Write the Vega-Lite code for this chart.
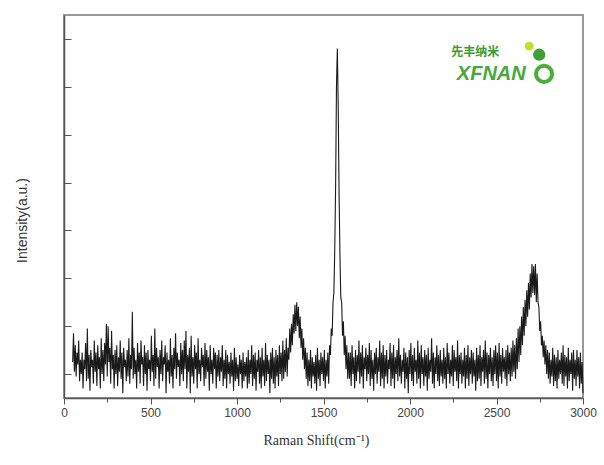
{
"$schema": "https://vega.github.io/schema/vega-lite/v6.json",
"width": 519, "height": 383,
"autosize": "none",
"padding": {"left": 64, "top": 15, "right": 21, "bottom": 67},
"background": "white",
"config": {"view": {"stroke": "#9a9a9a", "strokeWidth": 2}, "font": "Liberation Sans"},
"datasets": {
"spectrum": [
{"x":50,"y":1.25},{"x":55,"y":1.85},{"x":60,"y":1.05},{"x":65,"y":1.6},{"x":70,"y":0.95},{"x":75,"y":1.45},{"x":80,"y":1.2},{"x":85,"y":1.7},{"x":90,"y":0.85},{"x":95,"y":1.3},
{"x":100,"y":1.0},{"x":105,"y":1.45},{"x":110,"y":0.7},{"x":115,"y":1.3},{"x":120,"y":1.1},{"x":125,"y":1.65},{"x":130,"y":0.85},{"x":135,"y":1.95},{"x":140,"y":0.9},{"x":145,"y":1.4},
{"x":150,"y":0.65},{"x":155,"y":1.5},{"x":160,"y":1.15},{"x":165,"y":1.3},{"x":170,"y":0.8},{"x":175,"y":1.7},{"x":180,"y":1.05},{"x":185,"y":1.45},{"x":190,"y":0.75},{"x":195,"y":1.6},
{"x":200,"y":1.1},{"x":205,"y":1.35},{"x":210,"y":0.7},{"x":215,"y":1.75},{"x":220,"y":1.0},{"x":225,"y":1.5},{"x":230,"y":0.85},{"x":235,"y":1.65},{"x":240,"y":1.2},{"x":245,"y":2.05},
{"x":250,"y":0.95},{"x":255,"y":2.0},{"x":260,"y":1.25},{"x":265,"y":1.55},{"x":270,"y":0.8},{"x":275,"y":1.9},{"x":280,"y":1.1},{"x":285,"y":1.4},{"x":290,"y":0.7},{"x":295,"y":1.5},
{"x":300,"y":1.0},{"x":305,"y":1.6},{"x":310,"y":0.75},{"x":315,"y":1.35},{"x":320,"y":1.05},{"x":325,"y":1.7},{"x":330,"y":0.9},{"x":335,"y":1.45},{"x":340,"y":0.6},{"x":345,"y":1.55},
{"x":350,"y":1.15},{"x":355,"y":1.3},{"x":360,"y":0.85},{"x":365,"y":1.5},{"x":370,"y":0.95},{"x":375,"y":1.75},{"x":380,"y":0.8},{"x":385,"y":1.4},{"x":390,"y":1.1},{"x":395,"y":2.3},
{"x":400,"y":0.9},{"x":405,"y":1.55},{"x":410,"y":1.0},{"x":415,"y":1.3},{"x":420,"y":0.7},{"x":425,"y":1.65},{"x":430,"y":1.05},{"x":435,"y":1.45},{"x":440,"y":0.8},{"x":445,"y":1.7},
{"x":450,"y":1.2},{"x":455,"y":1.35},{"x":460,"y":0.75},{"x":465,"y":1.6},{"x":470,"y":1.0},{"x":475,"y":1.45},{"x":480,"y":0.65},{"x":485,"y":1.5},{"x":490,"y":1.1},{"x":495,"y":1.3},
{"x":500,"y":0.85},{"x":505,"y":1.8},{"x":510,"y":1.05},{"x":515,"y":1.4},{"x":520,"y":0.75},{"x":525,"y":1.95},{"x":530,"y":0.9},{"x":535,"y":1.55},{"x":540,"y":1.15},{"x":545,"y":1.35},
{"x":550,"y":0.7},{"x":555,"y":1.5},{"x":560,"y":1.0},{"x":565,"y":1.7},{"x":570,"y":0.85},{"x":575,"y":1.35},{"x":580,"y":1.2},{"x":585,"y":1.6},{"x":590,"y":0.6},{"x":595,"y":1.45},
{"x":600,"y":1.05},{"x":605,"y":1.3},{"x":610,"y":0.8},{"x":615,"y":1.75},{"x":620,"y":0.95},{"x":625,"y":1.4},{"x":630,"y":0.7},{"x":635,"y":1.55},{"x":640,"y":1.1},{"x":645,"y":1.85},
{"x":650,"y":0.9},{"x":655,"y":1.45},{"x":660,"y":1.15},{"x":665,"y":1.3},{"x":670,"y":0.75},{"x":675,"y":1.65},{"x":680,"y":1.0},{"x":685,"y":1.5},{"x":690,"y":0.85},{"x":695,"y":1.7},
{"x":700,"y":1.1},{"x":705,"y":1.9},{"x":710,"y":0.7},{"x":715,"y":1.4},{"x":720,"y":1.05},{"x":725,"y":1.55},{"x":730,"y":0.6},{"x":735,"y":1.8},{"x":740,"y":0.95},{"x":745,"y":1.35},
{"x":750,"y":0.8},{"x":755,"y":1.6},{"x":760,"y":1.1},{"x":765,"y":1.45},{"x":770,"y":0.7},{"x":775,"y":1.75},{"x":780,"y":1.0},{"x":785,"y":1.3},{"x":790,"y":0.85},{"x":795,"y":1.55},
{"x":800,"y":1.15},{"x":805,"y":1.4},{"x":810,"y":0.75},{"x":815,"y":1.65},{"x":820,"y":0.9},{"x":825,"y":1.5},{"x":830,"y":1.05},{"x":835,"y":1.35},{"x":840,"y":0.65},{"x":845,"y":1.6},
{"x":850,"y":1.0},{"x":855,"y":1.3},{"x":860,"y":0.8},{"x":865,"y":1.55},{"x":870,"y":1.1},{"x":875,"y":1.45},{"x":880,"y":0.7},{"x":885,"y":1.4},{"x":890,"y":0.95},{"x":895,"y":1.5},
{"x":900,"y":0.85},{"x":905,"y":1.35},{"x":910,"y":1.05},{"x":915,"y":1.6},{"x":920,"y":0.75},{"x":925,"y":1.3},{"x":930,"y":0.9},{"x":935,"y":1.5},{"x":940,"y":0.7},{"x":945,"y":1.4},
{"x":950,"y":1.0},{"x":955,"y":1.25},{"x":960,"y":0.8},{"x":965,"y":1.45},{"x":970,"y":0.95},{"x":975,"y":1.3},{"x":980,"y":0.65},{"x":985,"y":1.55},{"x":990,"y":0.85},{"x":995,"y":1.35},
{"x":1000,"y":0.9},{"x":1005,"y":1.2},{"x":1010,"y":0.75},{"x":1015,"y":1.4},{"x":1020,"y":1.0},{"x":1025,"y":1.3},{"x":1030,"y":0.7},{"x":1035,"y":1.45},{"x":1040,"y":0.85},{"x":1045,"y":1.25},
{"x":1050,"y":0.95},{"x":1055,"y":1.35},{"x":1060,"y":0.7},{"x":1065,"y":1.5},{"x":1070,"y":0.8},{"x":1075,"y":1.3},{"x":1080,"y":1.0},{"x":1085,"y":1.6},{"x":1090,"y":0.75},{"x":1095,"y":1.4},
{"x":1100,"y":0.9},{"x":1105,"y":1.45},{"x":1110,"y":0.65},{"x":1115,"y":1.3},{"x":1120,"y":1.05},{"x":1125,"y":1.5},{"x":1130,"y":0.8},{"x":1135,"y":1.35},{"x":1140,"y":0.7},{"x":1145,"y":1.55},
{"x":1150,"y":0.95},{"x":1155,"y":1.3},{"x":1160,"y":0.75},{"x":1165,"y":1.65},{"x":1170,"y":0.85},{"x":1175,"y":1.4},{"x":1180,"y":1.0},{"x":1185,"y":1.3},{"x":1190,"y":0.6},{"x":1195,"y":1.45},
{"x":1200,"y":0.9},{"x":1205,"y":1.55},{"x":1210,"y":0.8},{"x":1215,"y":1.35},{"x":1220,"y":0.7},{"x":1225,"y":1.5},{"x":1230,"y":0.95},{"x":1235,"y":1.4},{"x":1240,"y":0.75},{"x":1245,"y":1.6},
{"x":1250,"y":1.0},{"x":1255,"y":1.45},{"x":1260,"y":0.85},{"x":1265,"y":1.7},{"x":1270,"y":0.9},{"x":1275,"y":1.5},{"x":1280,"y":1.05},{"x":1285,"y":1.75},{"x":1290,"y":0.95},{"x":1295,"y":1.55},
{"x":1300,"y":1.3},{"x":1305,"y":1.95},{"x":1310,"y":1.45},{"x":1315,"y":2.05},{"x":1320,"y":1.6},{"x":1325,"y":2.25},{"x":1330,"y":1.85},{"x":1335,"y":2.45},{"x":1340,"y":1.9},{"x":1345,"y":2.5},
{"x":1350,"y":2.0},{"x":1355,"y":2.4},{"x":1360,"y":1.75},{"x":1365,"y":2.2},{"x":1370,"y":1.55},{"x":1375,"y":1.95},{"x":1380,"y":1.3},{"x":1385,"y":1.75},{"x":1390,"y":1.1},{"x":1395,"y":1.55},
{"x":1400,"y":0.9},{"x":1405,"y":1.45},{"x":1410,"y":0.75},{"x":1415,"y":1.3},{"x":1420,"y":0.85},{"x":1425,"y":1.5},{"x":1430,"y":0.7},{"x":1435,"y":1.35},{"x":1440,"y":0.95},{"x":1445,"y":1.25},
{"x":1450,"y":0.8},{"x":1455,"y":1.4},{"x":1460,"y":0.65},{"x":1465,"y":1.55},{"x":1470,"y":0.9},{"x":1475,"y":1.3},{"x":1480,"y":0.75},{"x":1485,"y":1.45},{"x":1490,"y":1.0},{"x":1495,"y":1.35},
{"x":1500,"y":0.85},{"x":1505,"y":1.5},{"x":1510,"y":0.7},{"x":1515,"y":1.3},{"x":1520,"y":0.95},{"x":1525,"y":1.45},{"x":1530,"y":0.8},{"x":1535,"y":1.6},{"x":1540,"y":1.4},{"x":1545,"y":1.95},
{"x":1550,"y":1.8},{"x":1555,"y":2.5},{"x":1560,"y":2.7},{"x":1565,"y":3.6},{"x":1570,"y":4.9},{"x":1575,"y":7.0},{"x":1580,"y":7.8},{"x":1585,"y":6.6},{"x":1590,"y":4.8},{"x":1595,"y":3.5},
{"x":1600,"y":2.6},{"x":1605,"y":2.5},{"x":1610,"y":1.8},{"x":1615,"y":2.1},{"x":1620,"y":1.4},{"x":1625,"y":1.8},{"x":1630,"y":1.1},{"x":1635,"y":1.6},{"x":1640,"y":0.9},{"x":1645,"y":1.45},
{"x":1650,"y":0.9},{"x":1655,"y":1.45},{"x":1660,"y":0.75},{"x":1665,"y":1.6},{"x":1670,"y":1.0},{"x":1675,"y":1.35},{"x":1680,"y":0.7},{"x":1685,"y":1.5},{"x":1690,"y":0.85},{"x":1695,"y":1.4},
{"x":1700,"y":1.05},{"x":1705,"y":1.7},{"x":1710,"y":0.8},{"x":1715,"y":1.45},{"x":1720,"y":0.95},{"x":1725,"y":1.6},{"x":1730,"y":0.7},{"x":1735,"y":1.35},{"x":1740,"y":1.1},{"x":1745,"y":1.55},
{"x":1750,"y":0.85},{"x":1755,"y":1.4},{"x":1760,"y":1.0},{"x":1765,"y":1.65},{"x":1770,"y":0.75},{"x":1775,"y":1.5},{"x":1780,"y":0.9},{"x":1785,"y":1.3},{"x":1790,"y":0.65},{"x":1795,"y":1.45},
{"x":1800,"y":1.0},{"x":1805,"y":1.55},{"x":1810,"y":0.8},{"x":1815,"y":1.35},{"x":1820,"y":1.05},{"x":1825,"y":1.7},{"x":1830,"y":0.75},{"x":1835,"y":1.45},{"x":1840,"y":0.9},{"x":1845,"y":1.6},
{"x":1850,"y":0.7},{"x":1855,"y":1.4},{"x":1860,"y":0.95},{"x":1865,"y":1.5},{"x":1870,"y":0.8},{"x":1875,"y":1.3},{"x":1880,"y":1.1},{"x":1885,"y":1.65},{"x":1890,"y":0.75},{"x":1895,"y":1.45},
{"x":1900,"y":0.9},{"x":1905,"y":1.6},{"x":1910,"y":0.7},{"x":1915,"y":1.35},{"x":1920,"y":1.0},{"x":1925,"y":1.5},{"x":1930,"y":0.85},{"x":1935,"y":1.75},{"x":1940,"y":0.95},{"x":1945,"y":1.4},
{"x":1950,"y":0.8},{"x":1955,"y":1.3},{"x":1960,"y":1.05},{"x":1965,"y":1.55},{"x":1970,"y":0.7},{"x":1975,"y":1.45},{"x":1980,"y":0.9},{"x":1985,"y":1.35},{"x":1990,"y":0.6},{"x":1995,"y":1.5},
{"x":2000,"y":1.0},{"x":2005,"y":1.65},{"x":2010,"y":0.85},{"x":2015,"y":1.4},{"x":2020,"y":0.75},{"x":2025,"y":1.55},{"x":2030,"y":1.05},{"x":2035,"y":1.3},{"x":2040,"y":0.8},{"x":2045,"y":1.7},
{"x":2050,"y":0.9},{"x":2055,"y":1.45},{"x":2060,"y":0.7},{"x":2065,"y":1.6},{"x":2070,"y":1.0},{"x":2075,"y":1.35},{"x":2080,"y":0.75},{"x":2085,"y":1.5},{"x":2090,"y":0.95},{"x":2095,"y":1.4},
{"x":2100,"y":0.65},{"x":2105,"y":1.55},{"x":2110,"y":0.9},{"x":2115,"y":1.3},{"x":2120,"y":1.05},{"x":2125,"y":1.75},{"x":2130,"y":0.8},{"x":2135,"y":1.45},{"x":2140,"y":0.7},{"x":2145,"y":1.35},
{"x":2150,"y":1.0},{"x":2155,"y":1.6},{"x":2160,"y":0.85},{"x":2165,"y":1.4},{"x":2170,"y":0.75},{"x":2175,"y":1.5},{"x":2180,"y":0.95},{"x":2185,"y":1.3},{"x":2190,"y":0.8},{"x":2195,"y":1.55},
{"x":2200,"y":0.9},{"x":2205,"y":1.35},{"x":2210,"y":0.7},{"x":2215,"y":1.65},{"x":2220,"y":1.0},{"x":2225,"y":1.45},{"x":2230,"y":0.8},{"x":2235,"y":1.3},{"x":2240,"y":0.95},{"x":2245,"y":1.6},
{"x":2250,"y":0.75},{"x":2255,"y":1.5},{"x":2260,"y":1.05},{"x":2265,"y":1.35},{"x":2270,"y":0.85},{"x":2275,"y":1.7},{"x":2280,"y":0.7},{"x":2285,"y":1.4},{"x":2290,"y":1.0},{"x":2295,"y":1.45},
{"x":2300,"y":0.8},{"x":2305,"y":1.3},{"x":2310,"y":0.95},{"x":2315,"y":1.55},{"x":2320,"y":0.7},{"x":2325,"y":1.4},{"x":2330,"y":0.9},{"x":2335,"y":1.6},{"x":2340,"y":0.75},{"x":2345,"y":1.35},
{"x":2350,"y":1.0},{"x":2355,"y":1.5},{"x":2360,"y":0.8},{"x":2365,"y":1.45},{"x":2370,"y":0.95},{"x":2375,"y":1.3},{"x":2380,"y":0.65},{"x":2385,"y":1.55},{"x":2390,"y":0.85},{"x":2395,"y":1.4},
{"x":2400,"y":0.9},{"x":2405,"y":1.6},{"x":2410,"y":0.75},{"x":2415,"y":1.35},{"x":2420,"y":1.05},{"x":2425,"y":1.5},{"x":2430,"y":0.8},{"x":2435,"y":1.7},{"x":2440,"y":0.9},{"x":2445,"y":1.45},
{"x":2450,"y":0.7},{"x":2455,"y":1.4},{"x":2460,"y":1.0},{"x":2465,"y":1.55},{"x":2470,"y":0.85},{"x":2475,"y":1.35},{"x":2480,"y":0.75},{"x":2485,"y":1.5},{"x":2490,"y":1.0},{"x":2495,"y":1.6},
{"x":2500,"y":0.85},{"x":2505,"y":1.45},{"x":2510,"y":0.7},{"x":2515,"y":1.65},{"x":2520,"y":0.95},{"x":2525,"y":1.4},{"x":2530,"y":0.8},{"x":2535,"y":1.55},{"x":2540,"y":1.05},{"x":2545,"y":1.35},
{"x":2550,"y":0.9},{"x":2555,"y":1.5},{"x":2560,"y":0.75},{"x":2565,"y":1.6},{"x":2570,"y":1.0},{"x":2575,"y":1.45},{"x":2580,"y":0.85},{"x":2585,"y":1.55},{"x":2590,"y":0.95},{"x":2595,"y":1.7},
{"x":2600,"y":1.05},{"x":2605,"y":1.6},{"x":2610,"y":0.9},{"x":2615,"y":1.75},{"x":2620,"y":1.1},{"x":2625,"y":1.95},{"x":2630,"y":1.25},{"x":2635,"y":2.0},{"x":2640,"y":1.4},{"x":2645,"y":2.2},
{"x":2650,"y":1.6},{"x":2655,"y":2.4},{"x":2660,"y":1.8},{"x":2665,"y":2.55},{"x":2670,"y":2.0},{"x":2675,"y":2.75},{"x":2680,"y":2.2},{"x":2685,"y":2.9},{"x":2690,"y":2.35},{"x":2695,"y":3.1},
{"x":2700,"y":2.6},{"x":2705,"y":3.3},{"x":2710,"y":2.7},{"x":2715,"y":3.25},{"x":2720,"y":2.65},{"x":2725,"y":3.3},{"x":2730,"y":2.5},{"x":2735,"y":3.1},{"x":2740,"y":2.5},{"x":2745,"y":2.4},
{"x":2750,"y":1.9},{"x":2755,"y":2.1},{"x":2760,"y":1.6},{"x":2765,"y":1.8},{"x":2770,"y":1.35},{"x":2775,"y":1.7},{"x":2780,"y":1.2},{"x":2785,"y":1.6},{"x":2790,"y":1.0},{"x":2795,"y":1.5},
{"x":2800,"y":0.9},{"x":2805,"y":1.45},{"x":2810,"y":0.8},{"x":2815,"y":1.3},{"x":2820,"y":0.95},{"x":2825,"y":1.55},{"x":2830,"y":0.75},{"x":2835,"y":1.4},{"x":2840,"y":0.85},{"x":2845,"y":1.35},
{"x":2850,"y":0.7},{"x":2855,"y":1.5},{"x":2860,"y":0.9},{"x":2865,"y":1.3},{"x":2870,"y":1.0},{"x":2875,"y":1.45},{"x":2880,"y":0.8},{"x":2885,"y":1.6},{"x":2890,"y":0.75},{"x":2895,"y":1.4},
{"x":2900,"y":0.95},{"x":2905,"y":1.35},{"x":2910,"y":0.7},{"x":2915,"y":1.55},{"x":2920,"y":0.85},{"x":2925,"y":1.3},{"x":2930,"y":1.0},{"x":2935,"y":1.45},{"x":2940,"y":0.65},{"x":2945,"y":1.5},
{"x":2950,"y":0.9},{"x":2955,"y":1.3},{"x":2960,"y":0.75},{"x":2965,"y":1.5},{"x":2970,"y":0.95},{"x":2975,"y":1.35},{"x":2980,"y":0.7},{"x":2985,"y":1.45},{"x":2990,"y":0.8},{"x":2995,"y":1.25},
{"x":3000,"y":0.6}
],
"logo": [
{"kind":"cn","x":2377,"y":7.72,"label":"先丰纳米"},
{"kind":"en","x":2470,"y":7.26,"label":"XFNAN"},
{"kind":"ring","x":2775,"y":7.27},
{"kind":"dot1","x":2689,"y":7.85},
{"kind":"dot2","x":2747,"y":7.67}
]
},
"layer": [
{
"data": {"name": "spectrum"},
"mark": {"type": "line", "color": "#1a1a1a", "strokeWidth": 1.1},
"encoding": {
"x": {"field": "x", "type": "quantitative",
 "scale": {"domain": [0, 3000], "nice": false, "zero": false},
 "axis": {"title": "Raman Shift(cm⁻¹)", "values": [0,250,500,750,1000,1250,1500,1750,2000,2250,2500,2750,3000],
  "format": "d",
  "labelExpr": "datum.value % 500 === 0 ? datum.label : ''",
  "tickSize": {"condition": {"test": "datum.value % 500 === 0", "value": 6}, "value": 4},
  "grid": false, "domainColor": "#555", "domainWidth": 1.5, "tickColor": "#555", "tickWidth": 1,
  "labelFont": "Liberation Sans", "labelFontSize": 12, "labelColor": "#444", "labelPadding": 3, "labelFlush": false,
  "titleFont": "Liberation Serif", "titleFontSize": 14, "titleFontWeight": "normal", "titleColor": "#333",
  "titleX": 252, "titleY": 42, "titleBaseline": "middle"}},
"y": {"field": "y", "type": "quantitative",
 "scale": {"domain": [0.5, 8.5], "nice": false, "zero": false},
 "axis": {"title": "Intensity(a.u.)", "values": [1,1.5,2,2.5,3,3.5,4,4.5,5,5.5,6,6.5,7,7.5,8],
  "labels": false,
  "tickSize": {"condition": {"test": "datum.value % 1 === 0", "value": -7}, "value": -3},
  "grid": false, "domainColor": "#555", "domainWidth": 1.5, "tickColor": "#555", "tickWidth": 1,
  "titleFont": "Liberation Sans", "titleFontSize": 14, "titleFontWeight": "normal", "titleColor": "#333",
  "titleX": -42, "titleY": 205, "titleBaseline": "middle", "titleAngle": -90}}
}
},
{
"data": {"name": "logo"},
"transform": [{"filter": "datum.kind === 'cn'"}],
"mark": {"type": "text", "font": "Noto Sans CJK SC", "fontSize": 12, "fontWeight": "bold", "color": "#3a9a30"},
"encoding": {"x": {"field": "x", "type": "quantitative"}, "y": {"field": "y", "type": "quantitative"}, "text": {"field": "label"}}
},
{
"data": {"name": "logo"},
"transform": [{"filter": "datum.kind === 'en'"}],
"mark": {"type": "text", "font": "Liberation Sans", "fontSize": 20, "fontWeight": "bold", "fontStyle": "italic", "color": "#46a83a"},
"encoding": {"x": {"field": "x", "type": "quantitative"}, "y": {"field": "y", "type": "quantitative"}, "text": {"field": "label"}}
},
{
"data": {"name": "logo"},
"transform": [{"filter": "datum.kind === 'ring'"}],
"mark": {"type": "point", "shape": "circle", "filled": false, "strokeWidth": 4, "color": "#4cae3a", "size": 260, "opacity": 1},
"encoding": {"x": {"field": "x", "type": "quantitative"}, "y": {"field": "y", "type": "quantitative"}}
},
{
"data": {"name": "logo"},
"transform": [{"filter": "datum.kind === 'dot1'"}],
"mark": {"type": "point", "shape": "circle", "filled": true, "color": "#c8dc2a", "size": 80, "opacity": 1},
"encoding": {"x": {"field": "x", "type": "quantitative"}, "y": {"field": "y", "type": "quantitative"}}
},
{
"data": {"name": "logo"},
"transform": [{"filter": "datum.kind === 'dot2'"}],
"mark": {"type": "point", "shape": "circle", "filled": true, "color": "#3f9e35", "size": 150, "opacity": 1},
"encoding": {"x": {"field": "x", "type": "quantitative"}, "y": {"field": "y", "type": "quantitative"}}
}
]
}
